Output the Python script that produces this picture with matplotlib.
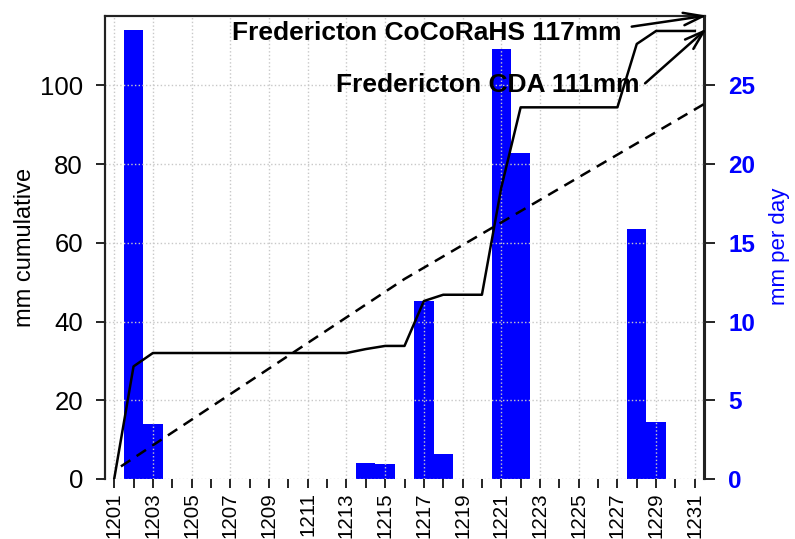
import matplotlib
matplotlib.use("Agg")
import matplotlib.pyplot as plt

plt.rcParams['font.family'] = ['Liberation Sans', 'DejaVu Sans']

# December daily precip (right axis) and cumulative totals (left axis)
days = list(range(1, 32))
daily_mm = [0, 28.5, 3.5, 0, 0, 0, 0, 0, 0, 0, 0, 0, 0, 1.0, 0.95, 0,
            11.3, 1.6, 0, 0, 27.3, 20.7, 0, 0, 0, 0, 0, 15.9, 3.6, 0, 0]
cum_mm = [0, 28.6, 32, 32, 32, 32, 32, 32, 32, 32, 32, 32, 32, 33.0, 33.8, 33.8,
          45.2, 46.8, 46.8, 46.8, 74.0, 94.4, 94.4, 94.4, 94.4, 94.4, 94.4,
          110.5, 113.8, 113.8, 113.8]
# cumulative normal (dashed)
normal_day = [1.35, 16, 31.5]
normal_mm = [3.2, 50.8, 95.3]

tick_days = days[::2]
tick_labels = ['12%02d' % d for d in tick_days]

blue = '#0000FF'

fig = plt.figure(figsize=(7.95, 5.39), dpi=100)
ax = fig.add_axes([104.5 / 795, 1 - 479 / 539, 600 / 795, 463 / 539])
ax2 = ax.twinx()

ax2.bar(days, daily_mm, width=1.0, color=blue, linewidth=0)
ax.plot(days, cum_mm, color='black', lw=1.8)
ax.plot(normal_day, normal_mm, color='black', lw=1.8, ls=(0, (4.5, 3)))

# lines and grid above the bars
ax.set_zorder(ax2.get_zorder() + 1)
ax.patch.set_visible(False)

ax.set_xlim(0.5, 31.5)
ax.set_ylim(0, 117.6)
ax2.set_ylim(0, 29.4)

ax.set_xticks(tick_days)
ax.set_xticklabels(tick_labels)
ax.set_xticks(days[1::2], minor=True)
ax.tick_params(axis='x', which='both', length=6.5, width=1.2, direction='out',
               pad=3, labelsize=14.8, labelrotation=90)

ax.set_yticks([0, 20, 40, 60, 80, 100])
ax.tick_params(axis='y', length=6.5, width=1.2, pad=9, labelsize=18.5)
ax2.set_yticks([0, 5, 10, 15, 20, 25])
ax2.tick_params(axis='y', length=8, width=1.2, pad=9, labelsize=17.5, labelcolor=blue)
for t in ax2.get_yticklabels():
    t.set_fontweight('bold')

ax.grid(True, which='major', color='#c8c8c8', ls=':', lw=1)
ax2.grid(False)

for a in (ax, ax2):
    a.spines['bottom'].set_visible(False)
    for s in ('left', 'right', 'top'):
        a.spines[s].set_linewidth(1.5)
        a.spines[s].set_color('#222222')

fig.text(25 / 795, 1 - 247 / 539, 'mm cumulative', rotation=90,
         ha='center', va='center', fontsize=17)
fig.text(780 / 795, 1 - 246 / 539, 'mm per day', rotation=90,
         ha='center', va='center', fontsize=16, color=blue)

ax.text(27.23, 111.5, 'Fredericton CoCoRaHS 117mm', ha='right', va='baseline',
        fontsize=19, fontweight='bold')
ax.text(28.16, 98.2, 'Fredericton CDA 111mm', ha='right', va='baseline',
        fontsize=19, fontweight='bold')

arrowprops = dict(arrowstyle='->, head_length=1.4, head_width=0.45',
                  color='black', lw=1.8, shrinkA=0, shrinkB=0, clip_on=False)
ax.annotate('', xy=(31.62, 117.7), xytext=(27.74, 114.9),
            arrowprops=arrowprops, annotation_clip=False)
ax.annotate('', xy=(31.62, 114.4), xytext=(28.43, 100.5),
            arrowprops=arrowprops, annotation_clip=False)

fig.savefig('out.png', dpi=100)
